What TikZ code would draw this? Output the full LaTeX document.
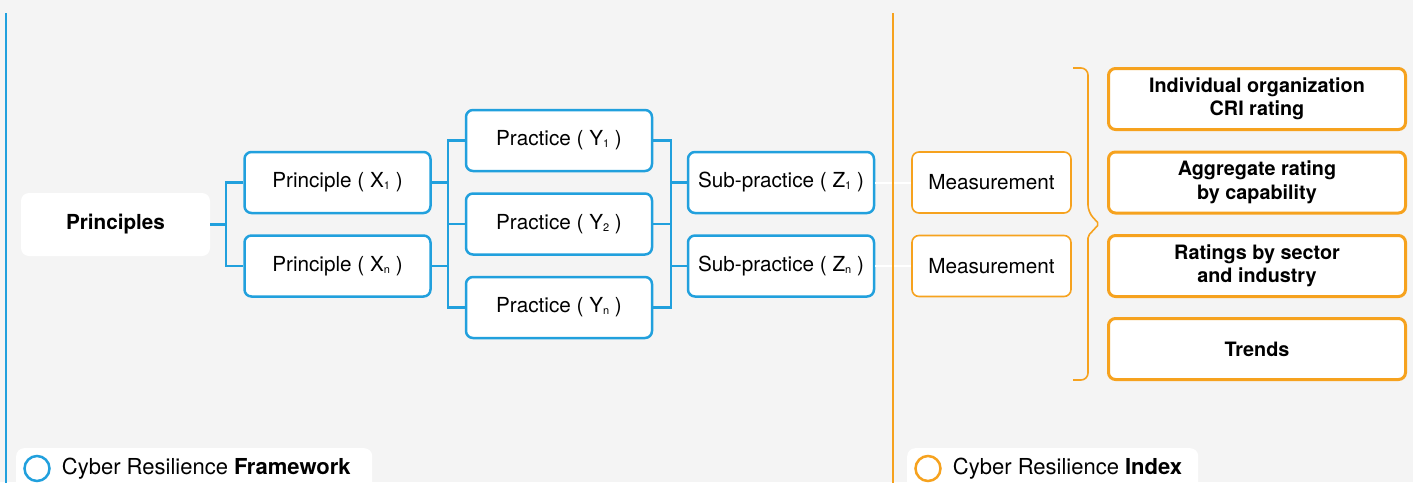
\documentclass[tikz,border=0pt]{standalone}
\usepackage{fontspec}
\setmainfont{TeX Gyre Heros}
\definecolor{bg}{RGB}{244, 244, 244}
\definecolor{crfblue}{RGB}{33, 160, 221}
\definecolor{criorange}{RGB}{246, 162, 30}
\usetikzlibrary{positioning}
\newcommand{\idx}[1]{\raisebox{-2pt}{\fontsize{11}{11}\selectfont #1}}

\begin{document}
\begin{tikzpicture}[
every node/.style={inner sep=0pt, align=center, font=\fontsize{20.7}{24}\selectfont},
bluebox/.style={rectangle, rounded corners=7pt, fill=white, draw=crfblue, line width=2.5pt, minimum width=186pt, minimum height=61pt},
measbox/.style={rectangle, rounded corners=7pt, fill=white, draw=criorange, line width=1.6pt, minimum width=159pt, minimum height=61pt},
resbox/.style={rectangle, rounded corners=7pt, fill=white, draw=criorange, line width=3pt, minimum width=297pt, minimum height=61pt, font=\fontsize{19.8}{23.5}\selectfont\bfseries},
link/.style={line width=2.5pt, color=crfblue},
legendbox/.style={rectangle, rounded corners=8pt, fill=white, anchor=north west, minimum height=60pt},
legendtext/.style={font=\fontsize{22}{24}\selectfont}]
\useasboundingbox (0pt, 0pt) rectangle (1413pt, -482pt);
\fill [bg] (0pt, 0pt) rectangle (1413pt, -482pt);
% framework side
\draw [crfblue, line width=2.2pt] (6pt, -13pt) -- (6pt, -490pt);
\node (pr) [rectangle, rounded corners=8pt, fill=white, minimum width=189pt, minimum height=63pt] at (115.5pt, -224.5pt) {\textbf{Principles}};
\node (x1) [bluebox] at (337.5pt, -182.5pt) {Principle ( X\idx{1} )};
\node (xn) [bluebox] at (337.5pt, -266pt) {Principle ( X\idx{n} )};
\node (y1) [bluebox] at (559pt, -140.5pt) {Practice ( Y\idx{1} )};
\node (y2) [bluebox] at (559pt, -224pt) {Practice ( Y\idx{2} )};
\node (yn) [bluebox] at (559pt, -307.5pt) {Practice ( Y\idx{n} )};
\node (z1) [bluebox] at (781pt, -182.5pt) {Sub-practice ( Z\idx{1} )};
\node (zn) [bluebox] at (781pt, -266pt) {Sub-practice ( Z\idx{n} )};
\coordinate (ja) at (226pt, -224.5pt);
\coordinate (jb) at (448pt, -224pt);
\coordinate (jc) at (671pt, -224pt);
\draw [link] (pr.east) -- (ja);
\draw [link] (x1.west) -| (ja) |- (xn.west);
\draw [link] (x1.east) -- (jb |- x1.east);
\draw [link] (xn.east) -- (jb |- xn.east);
\draw [link] (y1.west) -| (jb) |- (yn.west);
\draw [link] (y2.west) -- (jb);
\draw [link] (y1.east) -| (jc) |- (yn.east);
\draw [link] (y2.east) -- (jc);
\draw [link] (z1.west) -- (jc |- z1.west);
\draw [link] (zn.west) -- (jc |- zn.west);
% index side
\node (m1) [measbox] at (991.5pt, -182.5pt) {Measurement};
\node (m2) [measbox] at (991.5pt, -266pt) {Measurement};
\draw [white, line width=2pt] (z1.east) -- (m1.west);
\draw [white, line width=2pt] (zn.east) -- (m2.west);
\draw [criorange, line width=1.6pt] (893pt, -13pt) -- (893pt, -490pt);
\draw [criorange, line width=1.6pt] (1073pt, -68pt) [rounded corners=7pt] -- (1088pt, -68pt) -- (1088pt, -212pt) [rounded corners=2pt] -- (1099pt, -224pt) -- (1088pt, -236pt) [rounded corners=7pt] -- (1088pt, -380pt) -- (1073pt, -380pt);
\node (r1) [resbox] at (1257pt, -99pt) {Individual organization\\CRI rating};
\node (r2) [resbox] at (1257pt, -182.5pt) {Aggregate rating\\by capability};
\node (r3) [resbox] at (1257pt, -266pt) {Ratings by sector\\and industry};
\node (r4) [resbox] at (1257pt, -349pt) {Trends};
% legends
\node (crf) [legendbox, minimum width=356pt] at (16pt, -448pt) {};
\node (crfmark) [circle, draw=crfblue, line width=2.5pt, minimum size=25pt] at (37pt, -468.5pt) {};
\node (crftext) [legendtext, right=11pt of crfmark] {Cyber Resilience \textbf{Framework}};
\node (cri) [legendbox, minimum width=291pt] at (907pt, -448pt) {};
\node (crimark) [circle, draw=criorange, line width=2.5pt, minimum size=25pt] at (928pt, -468.5pt) {};
\node (critext) [legendtext, right=11pt of crimark] {Cyber Resilience \textbf{Index}};
\end{tikzpicture}
\end{document}
